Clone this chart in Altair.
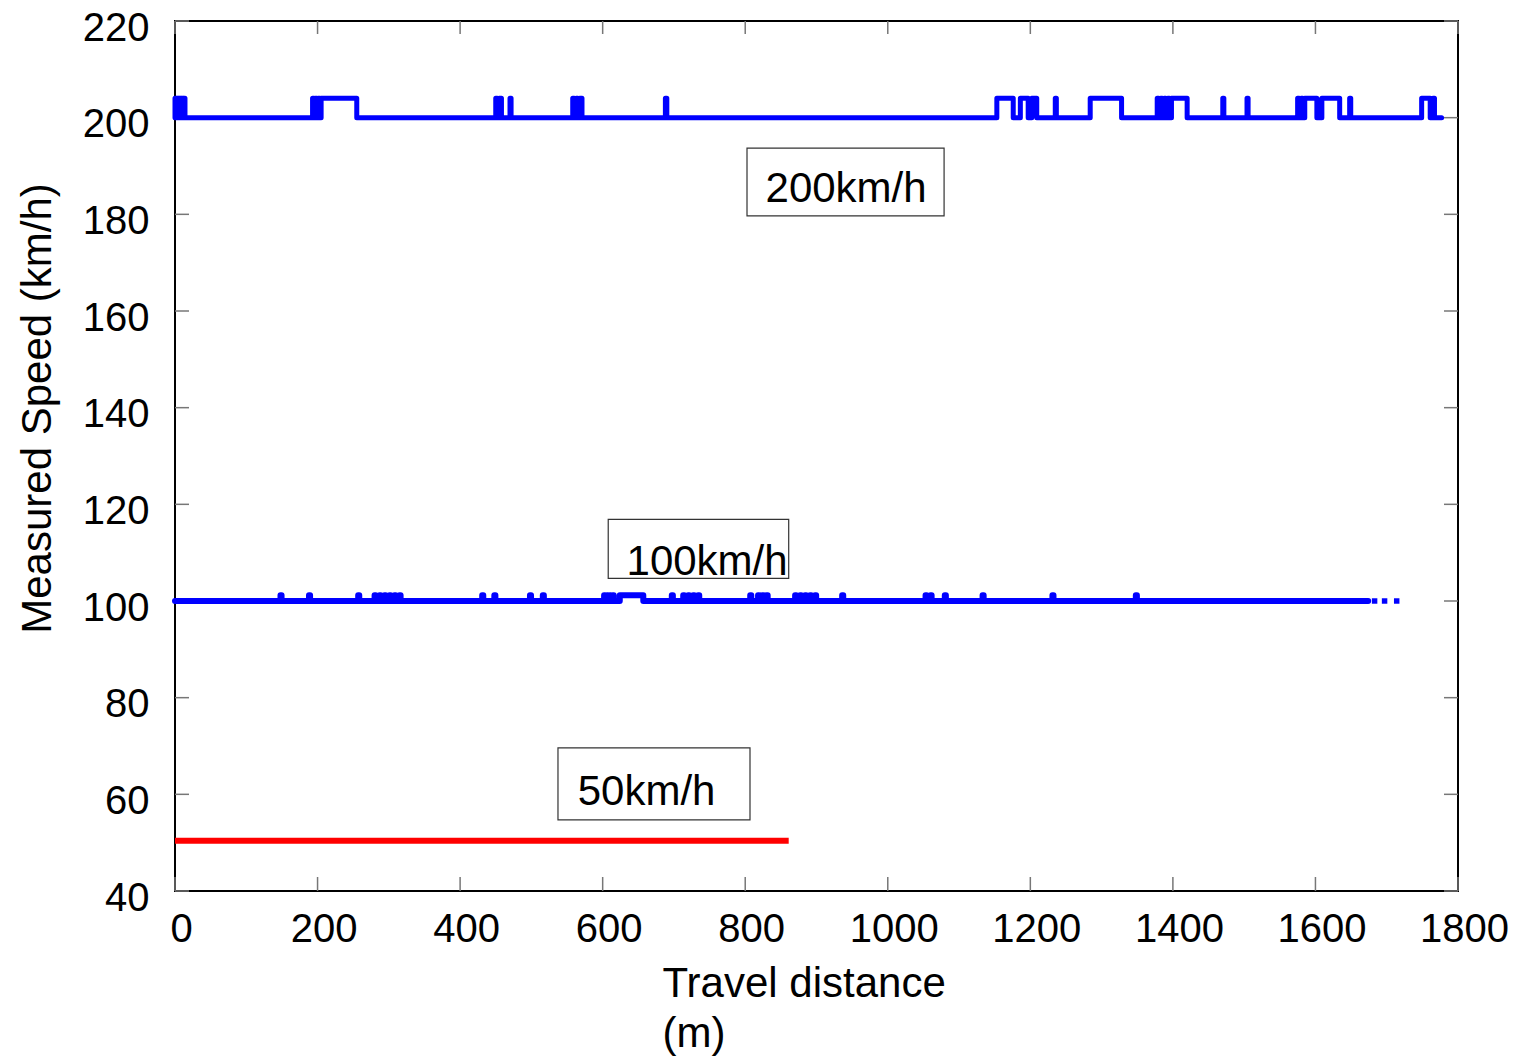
import altair as alt
import pandas as pd

FONT = "Liberation Sans"

x_ticks = list(range(0, 1801, 200))
y_ticks = list(range(40, 221, 20))

# 200 km/h run: baseline with short excursions
base_200 = 200.0
top_200 = 204.0
end_200 = 1777
pulse_start_200 = [0, 3, 6, 9, 12, 193, 197, 201, 205, 450, 455, 470, 558, 563, 568, 688,
                   1153, 1186, 1202, 1235, 1284, 1378, 1383, 1388, 1393, 1398, 1470, 1504,
                   1575, 1580, 1585, 1609, 1648, 1749, 1765]
pulse_end_200 = [2, 5, 8, 11, 14, 195, 199, 203, 255, 452, 458, 471.5, 560, 565, 571, 690,
                 1176, 1197, 1209, 1236.5, 1328, 1380, 1385, 1390, 1395, 1420, 1471.5, 1505.5,
                 1577, 1582, 1602, 1634, 1649.5, 1761, 1767]

# 100 km/h run
base_100 = 100.0
top_100 = 101.2
end_100 = 1674
pulse_start_100 = [148, 188, 257, 280, 287, 294, 301, 308, 315, 431, 448, 498, 516, 602, 606,
                   610, 614, 624, 697, 713, 720, 727, 734, 807, 818, 824, 830, 870, 877, 884,
                   891, 898, 936, 1053, 1060, 1080, 1133, 1231, 1348]
pulse_end_100 = [149.5, 189.5, 258.5, 281.5, 288.5, 295.5, 302.5, 309.5, 316.5, 432.5, 449.5,
                 499.5, 517.5, 603.5, 607.5, 611.5, 615.5, 657, 698.5, 714.5, 721.5, 728.5,
                 735.5, 808.5, 819.5, 825.5, 831.5, 871.5, 878.5, 885.5, 892.5, 899.5, 937.5,
                 1054.5, 1061.5, 1081.5, 1134.5, 1232.5, 1349.5]
tail_x_100 = [1683, 1697, 1714]

# 50 km/h run
speed_50 = 50.4
x_50 = [0, 861]

# annotation boxes
label_text = ["200km/h", "100km/h", "50km/h"]
label_x = [828.5, 633.5, 565.0]
label_y = [182.6, 105.4, 57.8]
box_x1 = [802.5, 607.8, 537.3]
box_x2 = [1079.0, 861.0, 806.7]
box_y1 = [193.7, 116.9, 69.6]
box_y2 = [179.7, 104.7, 54.7]


def step_points(starts, ends, base, top, x_end):
    pts = [(0.0, base)]
    for s, e in zip(starts, ends):
        pts += [(s, base), (s, top), (e, top), (e, base)]
    pts.append((x_end, base))
    return pd.DataFrame({"x": [p[0] for p in pts], "y": [p[1] for p in pts],
                         "o": list(range(len(pts)))})


df200 = step_points(pulse_start_200, pulse_end_200, base_200, top_200, end_200)
df100 = step_points(pulse_start_100, pulse_end_100, base_100, top_100, end_100)
df50 = pd.DataFrame({"x": x_50, "y": [speed_50] * len(x_50), "o": list(range(len(x_50)))})
dftail = pd.DataFrame({"x": tail_x_100, "y": [base_100] * len(tail_x_100)})
dfbox = pd.DataFrame({"x1": box_x1, "x2": box_x2, "y1": box_y1, "y2": box_y2})
dflab = pd.DataFrame({"t": label_text, "x": label_x, "y": label_y})
dfxt = pd.DataFrame({"v": x_ticks})
dfyt = pd.DataFrame({"v": y_ticks})

W, H = 1283, 870

xscale = alt.Scale(domain=[0, 1800], nice=False, zero=False)
yscale = alt.Scale(domain=[40, 220], nice=False, zero=False)

xaxis = alt.Axis(values=x_ticks, format="d", title=["Travel distance", "(m)"], ticks=False,
                 domain=False, grid=False, labelFont=FONT, labelFontSize=40, labelColor="black",
                 labelPadding=18, labelOffset=6, labelFlush=False,
                 titleFont=FONT, titleFontSize=42, titleFontWeight="normal", titleColor="black",
                 titleAlign="left", titleBaseline="alphabetic", titleX=487, titleY=105,
                 titleLineHeight=50)
yaxis = alt.Axis(values=y_ticks, format="d", title="Measured Speed (km/h)", ticks=False,
                 domain=False, grid=False, labelFont=FONT, labelFontSize=40, labelColor="black",
                 labelPadding=26, labelOffset=7, labelFlush=False,
                 titleFont=FONT, titleFontSize=42, titleFontWeight="normal", titleColor="black",
                 titleAngle=270, titleAlign="center", titleBaseline="middle",
                 titleX=-138, titleY=387)

line200 = alt.Chart(df200).mark_line(color="#0000FF", strokeWidth=5, strokeCap="round",
                                     strokeJoin="round").encode(
    x=alt.X("x:Q", scale=xscale, axis=xaxis),
    y=alt.Y("y:Q", scale=yscale, axis=yaxis),
    order="o:Q")
line100 = alt.Chart(df100).mark_line(color="#0000FF", strokeWidth=6, strokeCap="round",
                                     strokeJoin="round").encode(
    x=alt.X("x:Q", scale=xscale), y=alt.Y("y:Q", scale=yscale), order="o:Q")
tail100 = alt.Chart(dftail).mark_square(color="#0000FF", size=30, opacity=1).encode(
    x=alt.X("x:Q", scale=xscale), y=alt.Y("y:Q", scale=yscale))
line50 = alt.Chart(df50).mark_line(color="#FF0000", strokeWidth=6).encode(
    x=alt.X("x:Q", scale=xscale), y=alt.Y("y:Q", scale=yscale), order="o:Q")

boxes = alt.Chart(dfbox).mark_rect(fill=None, stroke="#333333", strokeWidth=1.2,
                                   fillOpacity=0).encode(
    x=alt.X("x1:Q", scale=xscale), x2="x2:Q",
    y=alt.Y("y1:Q", scale=yscale), y2="y2:Q")
labels = alt.Chart(dflab).mark_text(font=FONT, fontSize=42, align="left",
                                    baseline="alphabetic", color="black").encode(
    x=alt.X("x:Q", scale=xscale), y=alt.Y("y:Q", scale=yscale), text="t:N")

tick_style = dict(color="#777777", strokeWidth=1.5)
tb = alt.Chart(dfxt).mark_rule(**tick_style).encode(
    x=alt.X("v:Q", scale=xscale), y=alt.value(H), y2=alt.value(H - 14))
tt = alt.Chart(dfxt).mark_rule(**tick_style).encode(
    x=alt.X("v:Q", scale=xscale), y=alt.value(0), y2=alt.value(13))
tl = alt.Chart(dfyt).mark_rule(**tick_style).encode(
    y=alt.Y("v:Q", scale=yscale), x=alt.value(0), x2=alt.value(14))
tr = alt.Chart(dfyt).mark_rule(**tick_style).encode(
    y=alt.Y("v:Q", scale=yscale), x=alt.value(W), x2=alt.value(W - 14))

chart = alt.layer(tb, tt, tl, tr, line50, line100, tail100, line200, boxes, labels).properties(
    width=W, height=H,
    autosize=alt.AutoSizeParams(type="none"),
    padding={"left": 175, "top": 21, "right": 63, "bottom": 165},
    background="white",
).configure_view(stroke="black", strokeWidth=2)

chart.save("out.html", embed_options={"renderer": "svg", "actions": False})
